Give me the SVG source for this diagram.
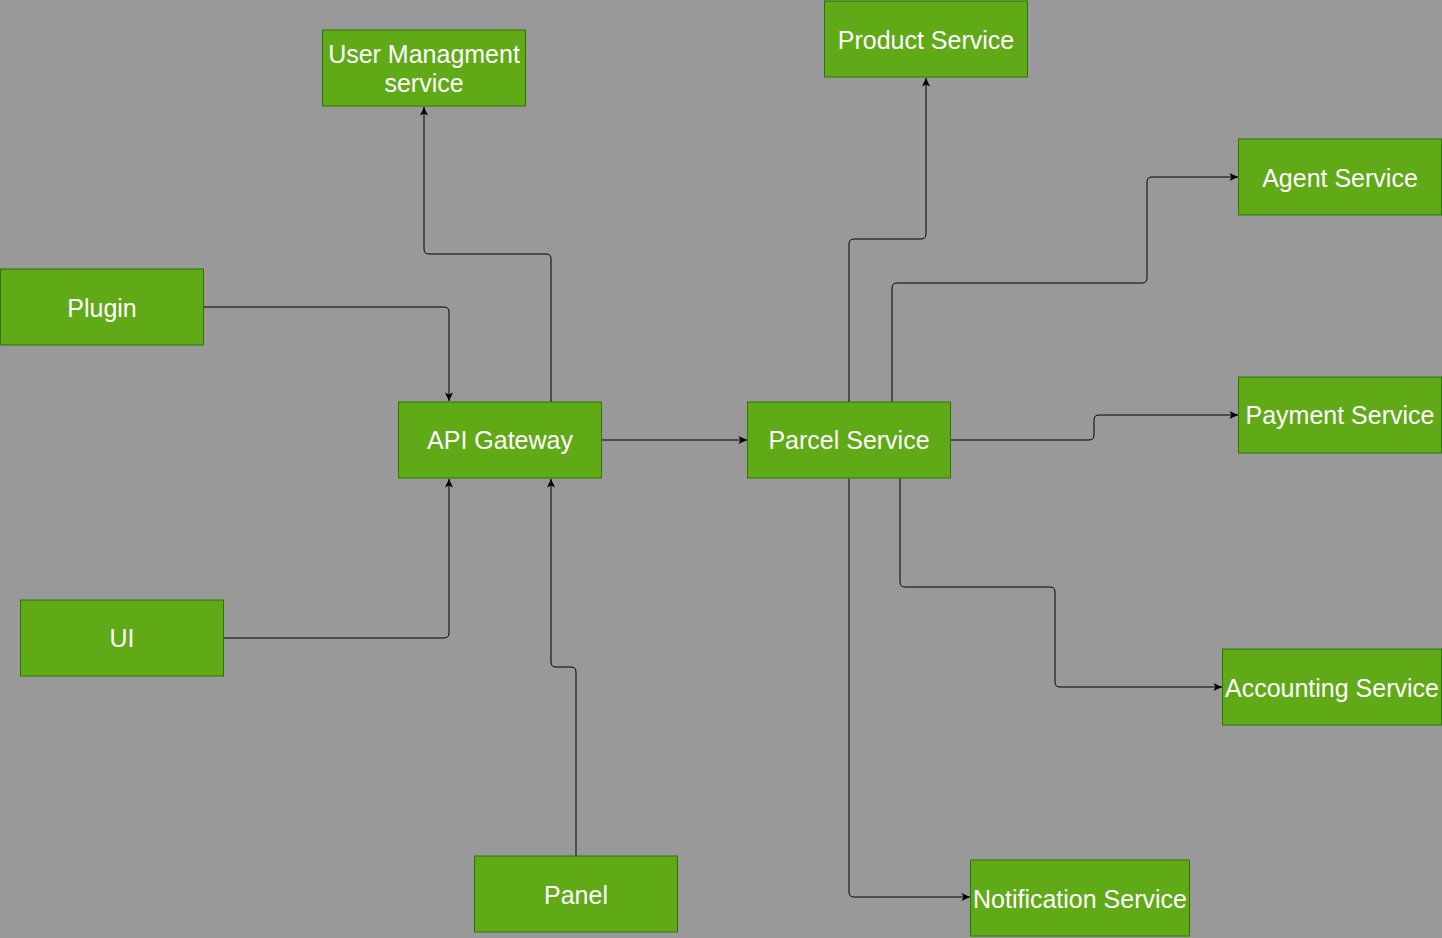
<svg xmlns="http://www.w3.org/2000/svg" width="1442" height="938" viewBox="0 0 1442 938">
<style>
.box rect{fill:#60a917;stroke:#2d7600;stroke-width:1}
.box text{fill:#ffffff;font-family:"Liberation Sans",Arial,sans-serif;font-size:25px;text-anchor:middle}
.edge{fill:none;stroke:#000000;stroke-width:1}
</style>
<defs>
<marker id="arr" markerUnits="userSpaceOnUse" markerWidth="10" markerHeight="10" viewBox="0 0 10 10" refX="9" refY="5" orient="auto">
<path d="M0.5 1 L9 5 L0.5 9 L2.5 5 Z" fill="#000000"/>
</marker>
</defs>
<rect x="0" y="0" width="1442" height="938" fill="#999999"/>
<g id="connectors">
<path class="edge" marker-end="url(#arr)" d="M203.5 307 H444 Q449 307 449 312 V401"/>
<path class="edge" marker-end="url(#arr)" d="M223.5 638 H444 Q449 638 449 633 V479"/>
<path class="edge" marker-end="url(#arr)" d="M576 856 V672 Q576 667 571 667 H556 Q551 667 551 662 V479"/>
<path class="edge" marker-end="url(#arr)" d="M551 402 V259 Q551 254 546 254 H429 Q424 254 424 249 V107"/>
<path class="edge" marker-end="url(#arr)" d="M601.5 440 H747"/>
<path class="edge" marker-end="url(#arr)" d="M849 402 V244 Q849 239 854 239 H921 Q926 239 926 234 V78"/>
<path class="edge" marker-end="url(#arr)" d="M892 402 V288 Q892 283 897 283 H1142 Q1147 283 1147 278 V182 Q1147 177 1152 177 H1238"/>
<path class="edge" marker-end="url(#arr)" d="M950.5 440 H1089 Q1094 440 1094 435 V420 Q1094 415 1099 415 H1238"/>
<path class="edge" marker-end="url(#arr)" d="M900 478.5 V582 Q900 587 905 587 H1050 Q1055 587 1055 592 V682 Q1055 687 1060 687 H1222"/>
<path class="edge" marker-end="url(#arr)" d="M849 478.5 V892 Q849 897 854 897 H970"/>
</g>
<g id="user-management" class="box"><rect x="322.5" y="30" width="203" height="76"/><text x="424" y="63">User Managment</text><text x="424" y="92">service</text></g>
<g id="product-service" class="box"><rect x="824.5" y="1" width="203" height="76"/><text x="926" y="48.5">Product Service</text></g>
<g id="agent-service" class="box"><rect x="1238.5" y="139" width="203" height="76"/><text x="1340" y="186.5">Agent Service</text></g>
<g id="plugin" class="box"><rect x="0.5" y="269" width="203" height="76"/><text x="102" y="316.5">Plugin</text></g>
<g id="api-gateway" class="box"><rect x="398.5" y="402" width="203" height="76"/><text x="500" y="448.5">API Gateway</text></g>
<g id="parcel-service" class="box"><rect x="747.5" y="402" width="203" height="76"/><text x="849" y="448.5">Parcel Service</text></g>
<g id="payment-service" class="box"><rect x="1238.5" y="377" width="203" height="76"/><text x="1340" y="424">Payment Service</text></g>
<g id="ui" class="box"><rect x="20.5" y="600" width="203" height="76"/><text x="122" y="647">UI</text></g>
<g id="accounting-service" class="box"><rect x="1222.5" y="649" width="219" height="76"/><text x="1332" y="696.5">Accounting Service</text></g>
<g id="panel" class="box"><rect x="474.5" y="856" width="203" height="76"/><text x="576" y="903.5">Panel</text></g>
<g id="notification-service" class="box"><rect x="970.5" y="860" width="219" height="76"/><text x="1080" y="907.5">Notification Service</text></g>
</svg>
